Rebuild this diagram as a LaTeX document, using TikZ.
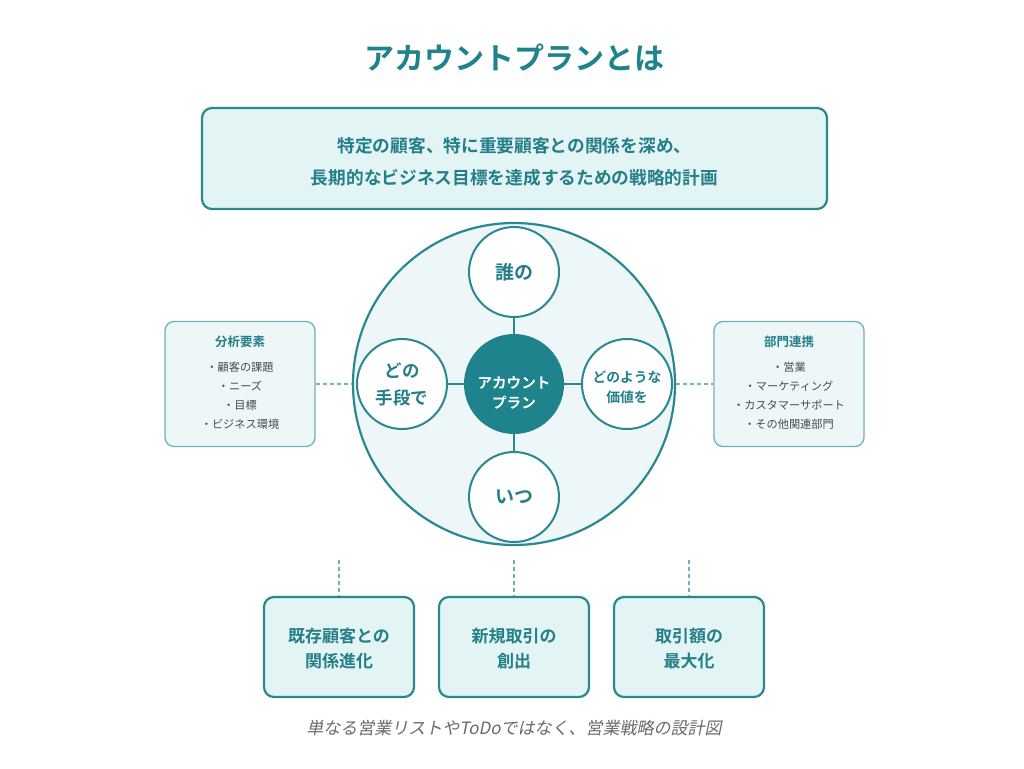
\documentclass[tikz,border=0pt]{standalone}
\usepackage{fontspec}
\setmainfont{Noto Sans CJK JP}
\newfontfamily\jpb{Noto Sans CJK JP}[BoldFont={Noto Sans CJK JP Bold}]
\newfontfamily\jpit{Noto Sans CJK JP}[FakeSlant=0.2]
\definecolor{teal1}{HTML}{1F838D}
\definecolor{teal2}{HTML}{2A8891}
\definecolor{tealtxt}{HTML}{257F89}
\definecolor{lightbox}{HTML}{E3F4F5}
\definecolor{lightcirc}{HTML}{EDF7F8}
\definecolor{sidebord}{HTML}{6FB3B9}
\definecolor{graytxt}{HTML}{4A4A4A}
\definecolor{captxt}{HTML}{6A6A6A}
\begin{document}
\begin{tikzpicture}[x=1pt,y=-1pt,
  mainbox/.style={draw=teal2,line width=2.2pt,fill=lightbox,rounded corners=10pt,align=center,text=tealtxt,font=\jpb\bfseries},
  sidebox/.style={draw=sidebord,line width=1.3pt,fill=lightcirc,rounded corners=9pt,minimum width=150pt,minimum height=125pt},
  smallc/.style={circle,draw=teal2,line width=2pt,fill=white,minimum size=90pt,inner sep=0pt,align=center,text=tealtxt,font=\jpb\bfseries},
  link/.style={draw=teal2,line width=2pt},
  dashlink/.style={draw=sidebord,line width=1.2pt,dash pattern=on 4pt off 3pt},
  item/.style={text=graytxt,font=\fontsize{11.2}{13}\selectfont},
  sidetitle/.style={text=tealtxt,font=\jpb\bfseries\fontsize{12.5}{14}\selectfont},
  botbox/.style={mainbox,minimum width=150pt,minimum height=100pt,font=\jpb\bfseries\fontsize{17}{25}\selectfont}
]
\useasboundingbox (0,0) rectangle (1024,768);
\fill[white] (0,0) rectangle (1024,768);

% title
\node[text=teal1,font=\jpb\bfseries\fontsize{30}{34}\selectfont] (title) at (514,58) {アカウントプランとは};

% top box
\node[mainbox,minimum width=625pt,minimum height=101pt] (def) at (514.5,158.5) {};
\node[text=tealtxt,font=\jpb\bfseries\fontsize{17.7}{32}\selectfont,align=center] (deftext) at (514.5,162) {特定の顧客、特に重要顧客との関係を深め、\\長期的なビジネス目標を達成するための戦略的計画};

% big circle
\node[circle,draw=teal2,line width=2.2pt,fill=lightcirc,minimum size=322pt,inner sep=0pt] (big) at (514,384) {};

% inner circles
\node[smallc,font=\jpb\bfseries\fontsize{19}{22}\selectfont] (who) at (514,272) {誰の};
\node[smallc,font=\jpb\bfseries\fontsize{19}{22}\selectfont] (when) at (514,497) {いつ};
\node[smallc,font=\jpb\bfseries\fontsize{17.5}{27}\selectfont] (how) at (402,384) {どの\\手段で};
\node[smallc] (what) at (627,384) {};
\node[text=tealtxt,font=\jpb\bfseries\fontsize{13.8}{20}\selectfont,align=center] (whattext) at (627,387) {どのような\\価値を};

\draw[link] (514,384) -- (who);
\draw[link] (514,384) -- (when);
\draw[link] (514,384) -- (how);
\draw[link] (514,384) -- (what);

\node[circle,fill=teal1,minimum size=100pt,inner sep=0pt] (center) at (514,384) {};
\node[text=white,align=center,font=\jpb\bfseries\fontsize{14.6}{20}\selectfont] (centertext) at (514,393) {アカウント\\プラン};

% side boxes
\node[sidebox] (left) at (240,384) {};
\node[sidetitle] (lt) at (240,342) {分析要素};
\node[item] (l1) at (240,367) {・顧客の課題};
\node[item] (l2) at (240,386) {・ニーズ};
\node[item] (l3) at (240,405) {・目標};
\node[item] (l4) at (240,424) {・ビジネス環境};

\node[sidebox] (right) at (789,384) {};
\node[sidetitle] (rt) at (789,342) {部門連携};
\node[item] (r1) at (789,367) {・営業};
\node[item] (r2) at (789,386) {・マーケティング};
\node[item] (r3) at (789,405) {・カスタマーサポート};
\node[item] (r4) at (789,424) {・その他関連部門};

\draw[dashlink] (left.east) -- (big.west);
\draw[dashlink] (big.east) -- (right.west);

% bottom boxes
\node[botbox] (b1) at (339,647) {};
\node[botbox] (b2) at (514,647) {};
\node[botbox] (b3) at (689,647) {};
\node[text=tealtxt,align=center,font=\jpb\bfseries\fontsize{17}{25}\selectfont] (b1t) at (339,649) {既存顧客との\\関係進化};
\node[text=tealtxt,align=center,font=\jpb\bfseries\fontsize{17}{25}\selectfont] (b2t) at (514,649) {新規取引の\\創出};
\node[text=tealtxt,align=center,font=\jpb\bfseries\fontsize{17}{25}\selectfont] (b3t) at (689,649) {取引額の\\最大化};

\coordinate (d1) at (339,560);
\coordinate (d2) at (514,560);
\coordinate (d3) at (689,560);
\draw[dashlink] (d1) -- (b1.north);
\draw[dashlink] (d2) -- (b2.north);
\draw[dashlink] (d3) -- (b3.north);

% caption
\node[text=captxt,font=\jpit\fontsize{17}{20}\selectfont] (cap) at (514,728) {単なる営業リストやToDoではなく、営業戦略の設計図};
\end{tikzpicture}
\end{document}
